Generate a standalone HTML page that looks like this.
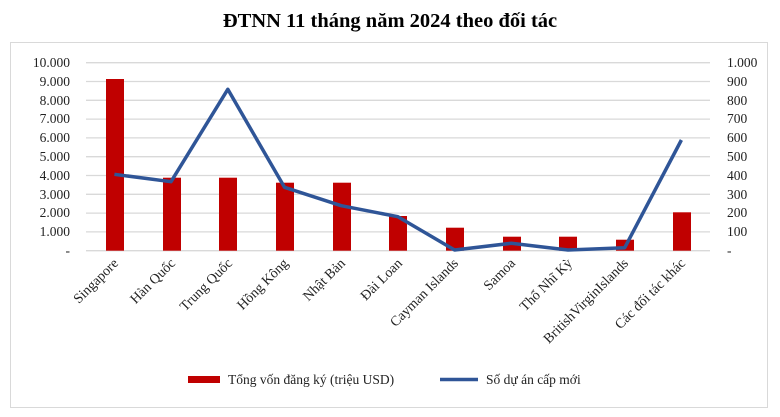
<!DOCTYPE html>
<html><head><meta charset="utf-8"><style>
body{margin:0;background:#fff}
svg text{font-family:"Liberation Serif",serif;fill:#222}
</style></head><body>
<svg width="780" height="412" viewBox="0 0 780 412" xmlns="http://www.w3.org/2000/svg">
<rect width="780" height="412" fill="#fff"/>
<text x="390" y="27" text-anchor="middle" font-size="20.5" font-weight="bold" style="fill:#000">ĐTNN 11 tháng năm 2024 theo đối tác</text>
<rect x="10.5" y="42.5" width="757" height="365" fill="none" stroke="#d9d9d9" stroke-width="1"/>
<g stroke="#d9d9d9" stroke-width="1.3">
<line x1="86" x2="710" y1="62.7" y2="62.7"/><line x1="86" x2="710" y1="81.5" y2="81.5"/>
<line x1="86" x2="710" y1="100.3" y2="100.3"/><line x1="86" x2="710" y1="119.1" y2="119.1"/>
<line x1="86" x2="710" y1="137.9" y2="137.9"/><line x1="86" x2="710" y1="156.7" y2="156.7"/>
<line x1="86" x2="710" y1="175.5" y2="175.5"/><line x1="86" x2="710" y1="194.3" y2="194.3"/>
<line x1="86" x2="710" y1="213.1" y2="213.1"/><line x1="86" x2="710" y1="231.9" y2="231.9"/>
<line x1="86" x2="710" y1="250.7" y2="250.7"/>
</g>
<g font-size="13.5" text-anchor="end">
<text x="70" y="67">10.000</text><text x="70" y="86">9.000</text><text x="70" y="105">8.000</text>
<text x="70" y="123">7.000</text><text x="70" y="142">6.000</text><text x="70" y="161">5.000</text>
<text x="70" y="180">4.000</text><text x="70" y="199">3.000</text><text x="70" y="217">2.000</text>
<text x="70" y="236">1.000</text><text x="70" y="255">-</text>
</g>
<g font-size="13.5">
<text x="727" y="67">1.000</text><text x="727" y="86">900</text><text x="727" y="105">800</text>
<text x="727" y="123">700</text><text x="727" y="142">600</text><text x="727" y="161">500</text>
<text x="727" y="180">400</text><text x="727" y="199">300</text><text x="727" y="217">200</text>
<text x="727" y="236">100</text><text x="727" y="255">-</text>
</g>
<g fill="#c00000">
<rect x="106" y="79" width="18" height="171.7"/>
<rect x="163" y="177.7" width="18" height="73"/>
<rect x="219" y="177.7" width="18" height="73"/>
<rect x="276" y="182.7" width="18" height="68"/>
<rect x="333" y="182.7" width="18" height="68"/>
<rect x="389" y="216" width="18" height="34.7"/>
<rect x="446" y="227.7" width="18" height="23"/>
<rect x="503" y="236.7" width="18" height="14"/>
<rect x="559" y="236.7" width="18" height="14"/>
<rect x="616" y="239.7" width="18" height="11"/>
<rect x="673" y="212.3" width="18" height="38.4"/>
</g>
<polyline fill="none" stroke="#2f5597" stroke-width="3.5" stroke-linejoin="round" points="114.4,174.3 171,181.7 227.8,89.3 284.5,187.3 341.2,205.7 397.9,216.7 454.6,250 511.3,243.3 568,250 624.7,247.7 681.4,140"/>
<g font-size="14" text-anchor="end">
<text transform="translate(119,264) rotate(-45)">Singapore</text>
<text transform="translate(176,264) rotate(-45)">Hàn Quốc</text>
<text transform="translate(233,264) rotate(-45)">Trung Quốc</text>
<text transform="translate(289,264) rotate(-45)">Hồng Kông</text>
<text transform="translate(346,264) rotate(-45)">Nhật Bản</text>
<text transform="translate(403,264) rotate(-45)">Đài Loan</text>
<text transform="translate(459,264) rotate(-45)">Cayman Islands</text>
<text transform="translate(516,264) rotate(-45)">Samoa</text>
<text transform="translate(573,264) rotate(-45)">Thổ Nhĩ Kỳ</text>
<text transform="translate(629,264) rotate(-45)">BritishVirginIslands</text>
<text transform="translate(686,264) rotate(-45)">Các đối tác khác</text>
</g>
<rect x="188" y="376" width="32" height="7" fill="#c00000"/>
<text x="228" y="384" font-size="13.5">Tổng vốn đăng ký (triệu USD)</text>
<line x1="440" x2="478" y1="379.5" y2="379.5" stroke="#2f5597" stroke-width="3.5"/>
<text x="486" y="384" font-size="13.5">Số dự án cấp mới</text>
</svg>
</body></html>
